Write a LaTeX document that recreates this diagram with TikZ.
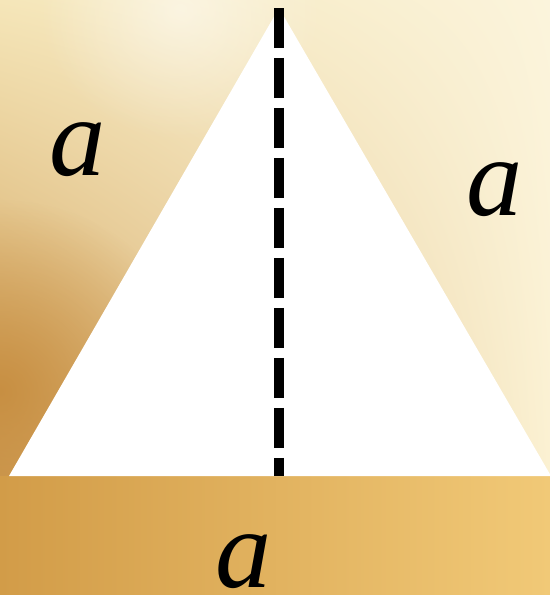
\documentclass[tikz,border=0pt]{standalone}
\usepackage{fontspec}
\setmainfont{Liberation Serif}
\usepackage{tikz}
\usetikzlibrary{positioning, calc, shadings, fadings}
\usepackage{xcolor}
\definecolor{bgcream}{HTML}{FBF4DC}
\definecolor{bglight}{HTML}{F5E6B9}
\definecolor{bgbrown}{HTML}{C68C3E}
\definecolor{bgpale}{HTML}{FBF1D2}
\definecolor{bgochre}{HTML}{D29C48}
\definecolor{bggold}{HTML}{F1C977}
\tikzfading[name=softspot, inner color=transparent!0, outer color=transparent!100]

\begin{document}
\begin{tikzpicture}[
    x=0.02cm, y=-0.02cm,
    every node/.style={inner sep=0pt},
    sidelabel/.style={font=\fontsize{64}{64}\selectfont\itshape},
    height line/.style={line width=0.21cm, dash pattern=on 0.8cm off 0.2cm}
]
    % background
    \clip (0,0) rectangle (550,595);
    \shade[upper left=bglight, upper right=bgcream, lower left=bgbrown!80!bglight, lower right=bgpale]
        (0,0) rectangle (550,480);
    \fill[bgbrown, opacity=0.9, path fading=softspot]
        (-200,200) rectangle (200,580);
    \fill[white, opacity=0.5, path fading=softspot]
        (40,-120) rectangle (320,140);
    \shade[left color=bgochre, right color=bggold]
        (0,476) rectangle (550,595);

    % triangle
    \coordinate (top) at (279,8);
    \coordinate (bl) at (9,476);
    \coordinate (br) at (551,476);
    \coordinate (foot) at (279,476);
    \fill[white] (top) -- (bl) -- (br) -- cycle;
    \draw[height line] (top) -- (foot);

    % labels
    \node[sidelabel] (aleft) at (78,150) {a};
    \node[sidelabel] (aright) at (495,190) {a};
    \node[sidelabel] (abottom) at (244,562) {a};
\end{tikzpicture}
\end{document}
